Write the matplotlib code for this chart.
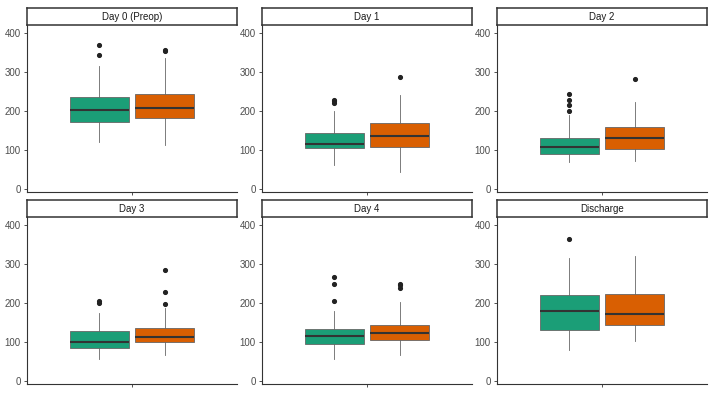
import matplotlib
matplotlib.use("Agg")
import matplotlib.pyplot as plt

plt.rcParams["font.family"] = ["Liberation Sans", "DejaVu Sans"]

# facet titles
titles = ["Day 0 (Preop)", "Day 1", "Day 2", "Day 3", "Day 4", "Discharge"]

# group A (green) box stats per facet
a_lo = [122, 63, 69, 57, 56, 79]
a_q1 = [173, 106, 90, 86, 96, 132]
a_med = [202, 117, 109, 101, 115, 180]
a_q3 = [235, 145, 132, 128, 133, 221]
a_hi = [316, 201, 190, 174, 180, 316]
a_out = [[343, 368], [220, 225, 229], [199, 215, 227, 244], [200, 205], [204, 248, 267], [363]]

# group B (orange) box stats per facet
b_lo = [113, 45, 72, 66, 67, 102]
b_q1 = [182, 109, 102, 100, 106, 143]
b_med = [207, 135, 131, 114, 123, 173]
b_q3 = [243, 169, 160, 137, 145, 222]
b_hi = [336, 241, 222, 188, 203, 321]
b_out = [[353, 355], [287], [283], [197, 229, 284], [239, 245, 249], []]

colors = ["#1B9E77", "#D95F02"]
yticks = [0, 100, 200, 300, 400]

W, H = 715, 395
fig = plt.figure(figsize=(W / 100, H / 100), dpi=100)


def px_axes(left, top, width, height):
    # axes placed by pixel box (top-left origin)
    return fig.add_axes([left / W, 1 - (top + height) / H, width / W, height / H])


col_left = [27, 262, 497]
row_top = [8, 200]
strip_h = 17
panel_h = 167
panel_w = 210

for i, title in enumerate(titles):
    r, c = divmod(i, 3)
    left, top = col_left[c], row_top[r]

    # panel
    ax = px_axes(left, top + strip_h, panel_w, panel_h)
    ax.patch.set_visible(False)
    stats = [
        dict(med=a_med[i], q1=a_q1[i], q3=a_q3[i], whislo=a_lo[i], whishi=a_hi[i], fliers=a_out[i]),
        dict(med=b_med[i], q1=b_q1[i], q3=b_q3[i], whislo=b_lo[i], whishi=b_hi[i], fliers=b_out[i]),
    ]
    bp = ax.bxp(stats, positions=[1 - 0.1875, 1 + 0.1875], widths=0.3375, patch_artist=True,
                showcaps=False,
                boxprops=dict(edgecolor="#666666", linewidth=0.6),
                whiskerprops=dict(color="#666666", linewidth=0.6),
                medianprops=dict(color="#333333", linewidth=1.5),
                flierprops=dict(marker="o", markersize=2.7, markerfacecolor="#222222",
                                markeredgecolor="#222222"))
    for patch, col in zip(bp["boxes"], colors):
        patch.set_facecolor(col)

    ax.set_xlim(0.4, 1.6)
    ax.set_ylim(-7, 420)
    ax.set_yticks(yticks)
    ax.set_xticks([1])
    ax.set_xticklabels([""])
    ax.tick_params(axis="both", length=2.5, width=0.6, color="#333333", labelsize=7,
                   labelcolor="#4d4d4d", pad=2)
    for side in ["top", "right"]:
        ax.spines[side].set_visible(False)
    for side in ["left", "bottom"]:
        ax.spines[side].set_color("#333333")
        ax.spines[side].set_linewidth(0.8)

    # strip with title
    sax = px_axes(left, top, panel_w, strip_h)
    sax.set_zorder(5)
    sax.set_xticks([])
    sax.set_yticks([])
    for sp in sax.spines.values():
        sp.set_color("#333333")
        sp.set_linewidth(1.1)
    sax.text(0.5, 0.5, title, ha="center", va="center", fontsize=7, color="#1a1a1a",
             transform=sax.transAxes)

fig.savefig("out.png", dpi=100)
